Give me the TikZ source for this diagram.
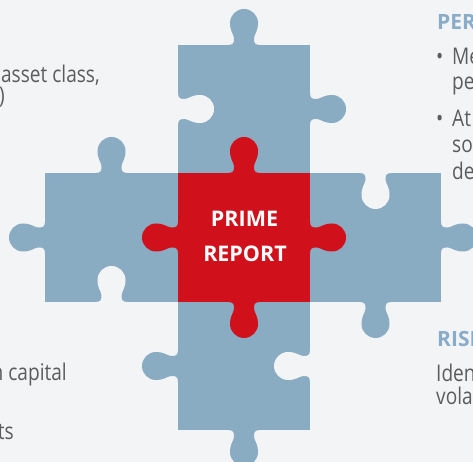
\documentclass[tikz,border=0pt]{standalone}
\usepackage{fontspec}
\newfontfamily\bodyfont{Open Sans}[FakeStretch=0.83]
\newfontfamily\headfont{Open Sans}
\definecolor{bgc}{RGB}{243,244,246}
\definecolor{pblue}{RGB}{137,172,195}
\definecolor{pred}{RGB}{208,17,27}
\definecolor{tgray}{RGB}{92,92,92}
\definecolor{hblue}{RGB}{137,172,200}
\newcommand{\knobshape}{(-16,-1) -- (-16,0) .. controls (-11,0) and (-9.5,2) .. (-10,7) .. controls (-10.5,11) and (-14,14) .. (-14,22) arc[start angle=180,end angle=0,radius=14] .. controls (14,14) and (10.5,11) .. (10,7) .. controls (9.5,2) and (11,0) .. (16,0) -- (16,-1) -- cycle}
\newcommand{\knob}[4]{\begin{scope}[shift={(#1,#2)},rotate=#3]\fill[#4] \knobshape;\end{scope}}
\tikzset{
  body/.style={inner sep=0pt,text=tgray,font=\bodyfont\fontsize{23}{26}\selectfont},
  head/.style={inner sep=0pt,text=hblue,font=\headfont\bfseries\fontsize{21}{26}\selectfont},
  center/.style={inner sep=0pt,text=white,font=\headfont\bfseries\fontsize{21.5}{26}\selectfont}
}
\begin{document}
\begin{tikzpicture}[x=1pt,y=1pt]
\useasboundingbox (0,0) rectangle (473,462);
\fill[bgc] (0,0) rectangle (473,462);
% blue pieces
\fill[pblue] (178,289) rectangle (310,417);
\fill[pblue] (45,160) rectangle (178,289);
\fill[pblue] (310,160) rectangle (441,289);
\fill[pblue] (178,32) rectangle (310,160);
% blue knobs
\knob{244}{417}{0}{pblue}
\knob{310}{353}{-90}{pblue}
\knob{111.5}{289}{0}{pblue}
\knob{45}{224.5}{90}{pblue}
\knob{441}{224.5}{-90}{pblue}
\knob{375.5}{160}{180}{pblue}
\knob{178}{96}{90}{pblue}
\knob{244}{32}{180}{pblue}
% holes
\knob{178}{353}{-90}{bgc}
\knob{111.5}{160}{0}{bgc}
\knob{375.5}{289}{180}{bgc}
\knob{310}{96}{90}{bgc}
% red piece
\fill[pred] (178,160) rectangle (310,289);
\knob{244}{289}{0}{pred}
\knob{244}{160}{180}{pred}
\knob{178}{224.5}{90}{pred}
\knob{310}{224.5}{-90}{pred}
\node[center,anchor=base] (prime) at (244.5,235) {PRIME};
\node[center,anchor=base] (report) at (245,200) {REPORT};
% left texts
\node[body,anchor=base east] (l1) at (100,379) {asset class,};
\node[body,anchor=base west] (l2) at (-1,358) {)};
\node[body,anchor=base east] (l3) at (67,81) {n capital};
\node[body,anchor=base east] (l4) at (14,22) {ts};
% right texts
\node[head,anchor=base west] (h1) at (437,432) {PER};
\node[body,anchor=base west] (b1) at (436,397) {•};
\node[body,anchor=base west] (r1) at (452,397) {Me};
\node[body,anchor=base west] (r2) at (452,372) {pe};
\node[body,anchor=base west] (b2) at (436,335) {•};
\node[body,anchor=base west] (r3) at (452,335) {At};
\node[body,anchor=base west] (r4) at (452,309) {so};
\node[body,anchor=base west] (r5) at (452,282) {de};
\node[head,anchor=base west] (h2) at (437,115) {RISK};
\node[body,anchor=base west] (r6) at (436,80) {Iden};
\node[body,anchor=base west] (r7) at (436,57) {vola};
\end{tikzpicture}
\end{document}
